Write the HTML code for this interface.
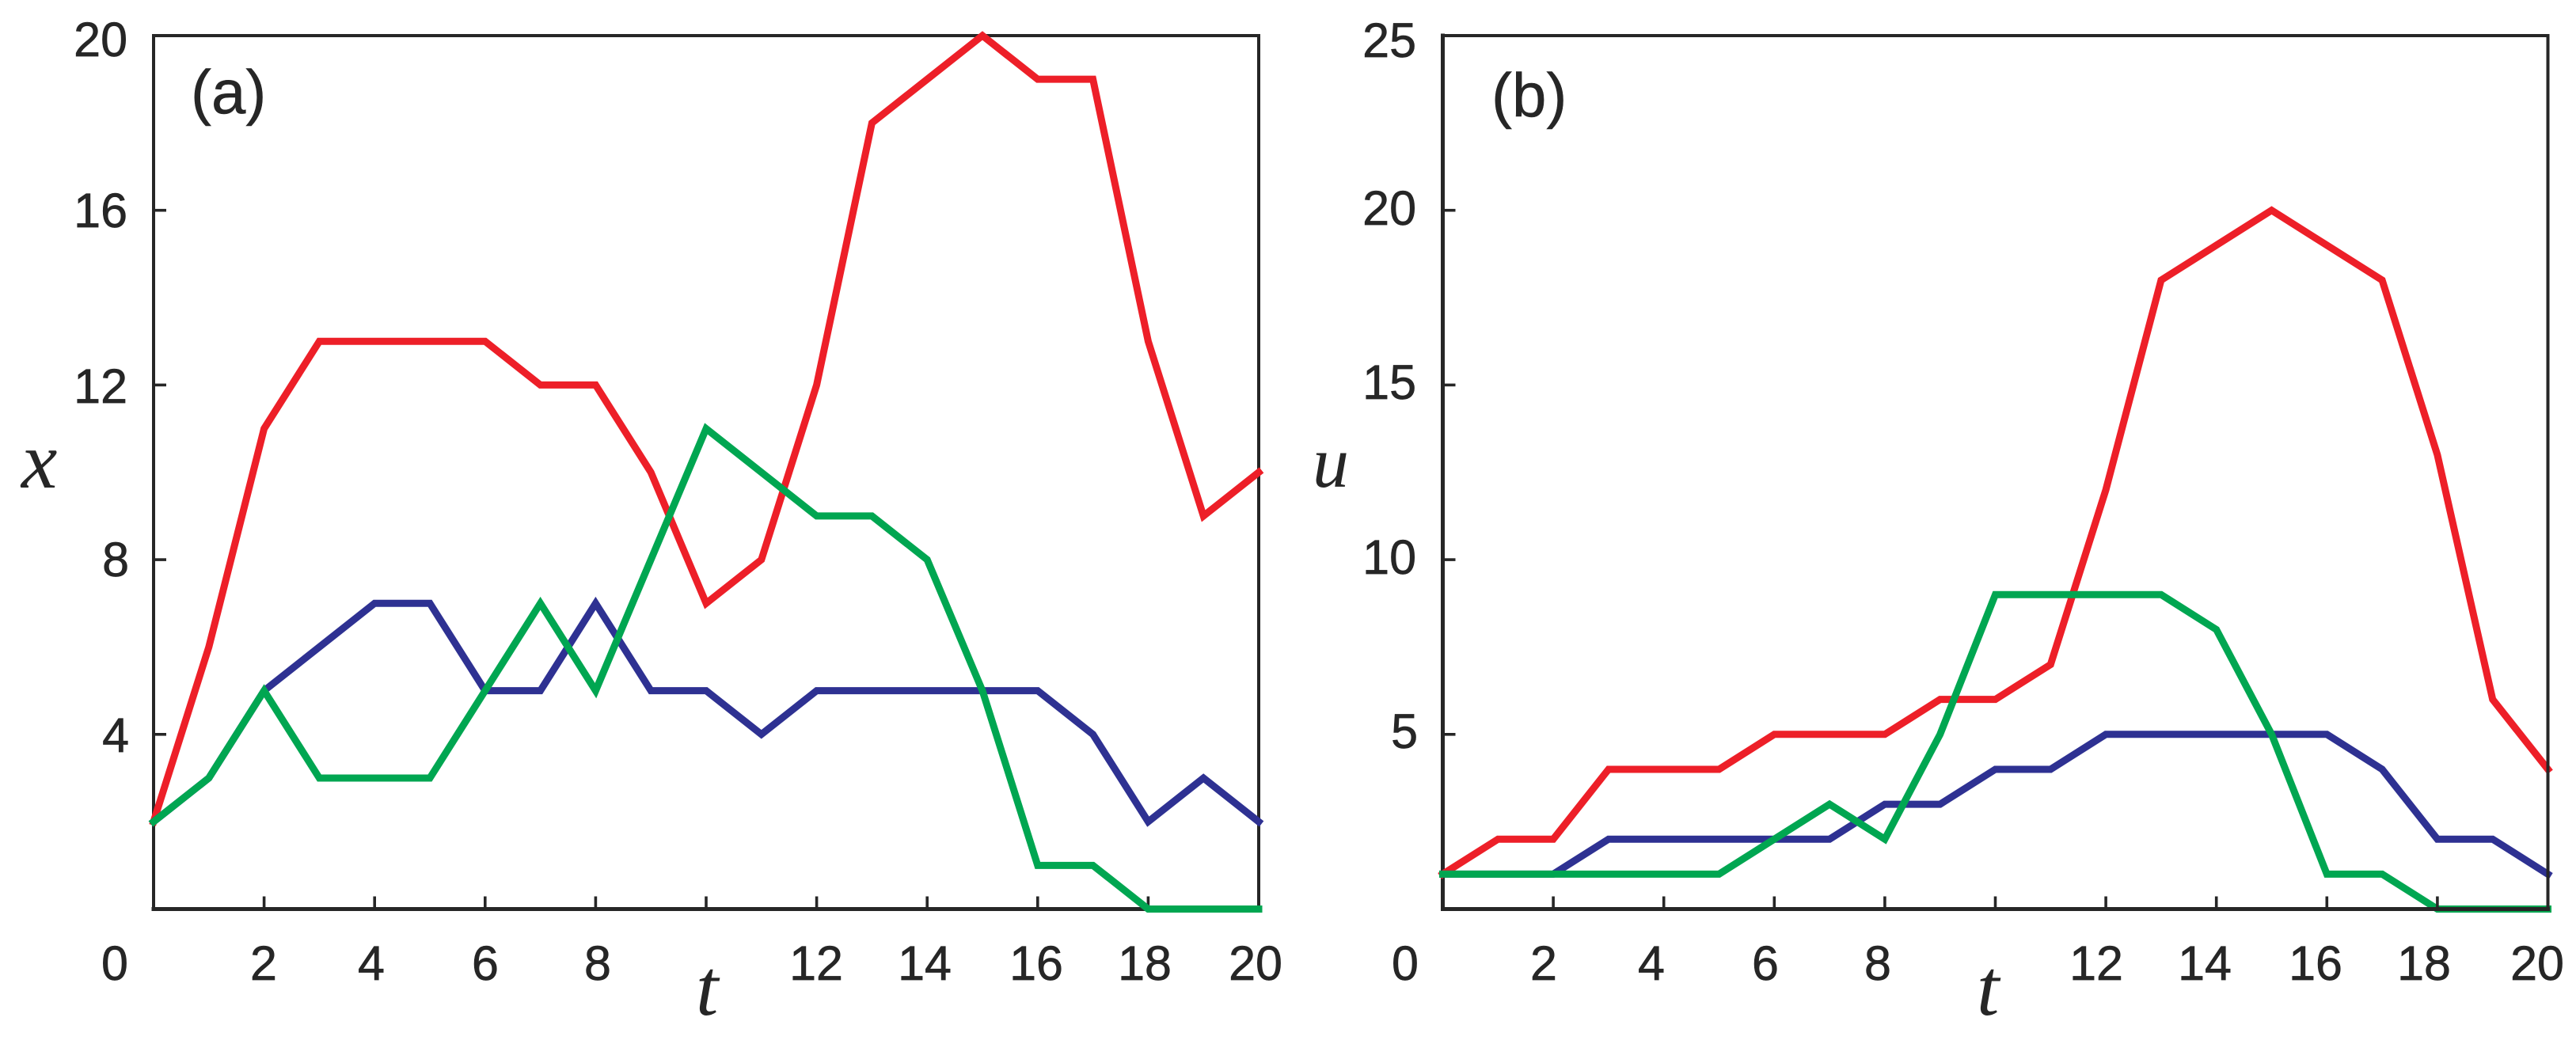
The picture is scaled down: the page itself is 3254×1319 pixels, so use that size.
<!DOCTYPE html>
<html lang="en">
<head>
<meta charset="utf-8">
<title>State and control trajectories</title>
<style>
html,body{margin:0;padding:0;background:#fff;}
body{width:3254px;height:1319px;overflow:hidden;}
svg{display:block;}
.num{font-family:"Liberation Sans",Arial,sans-serif;font-size:61px;fill:#262626;stroke:#262626;stroke-width:0.7px;}
.panel{font-family:"Liberation Sans",Arial,sans-serif;font-size:78px;fill:#262626;stroke:#262626;stroke-width:0.5px;}
.math{font-family:"Liberation Serif",serif;font-style:italic;font-size:102px;fill:#262626;}
</style>
</head>
<body>
<svg id="chart" xmlns="http://www.w3.org/2000/svg" width="3254" height="1319" viewBox="0 0 3254 1319">
  <rect x="0" y="0" width="3254" height="1319" fill="#ffffff"/>

  <g id="panel-a">
    <g id="a-under"></g>
    <g id="a-series"></g>
    <g id="a-over"></g>
    <text class="panel" x="241" y="143">(a)</text>
    <g class="num" text-anchor="end">
      <text x="161" y="71">20</text>
      <text x="161" y="287">16</text>
      <text x="161" y="509">12</text>
      <text x="163" y="728">8</text>
      <text x="163" y="950">4</text>
    </g>
    <g class="num" text-anchor="middle">
      <text x="145" y="1238">0</text>
      <text x="333" y="1238">2</text>
      <text x="469" y="1238">4</text>
      <text x="613" y="1238">6</text>
      <text x="755" y="1238">8</text>
      <text x="1031" y="1238">12</text>
      <text x="1168" y="1238">14</text>
      <text x="1309" y="1238">16</text>
      <text x="1446" y="1238">18</text>
      <text x="1586" y="1238">20</text>
    </g>
    <text class="math" x="27" y="616">x</text>
    <text class="math" x="879" y="1282">t</text>
  </g>

  <g id="panel-b">
    <g id="b-under"></g>
    <g id="b-series"></g>
    <g id="b-over"></g>
    <text class="panel" x="1884" y="147">(b)</text>
    <g class="num" text-anchor="end">
      <text x="1789" y="72">25</text>
      <text x="1789" y="284">20</text>
      <text x="1789" y="504">15</text>
      <text x="1789" y="725">10</text>
      <text x="1791" y="945">5</text>
    </g>
    <g class="num" text-anchor="middle">
      <text x="1775" y="1238">0</text>
      <text x="1950" y="1238">2</text>
      <text x="2086" y="1238">4</text>
      <text x="2230" y="1238">6</text>
      <text x="2372" y="1238">8</text>
      <text x="2648" y="1238">12</text>
      <text x="2785" y="1238">14</text>
      <text x="2925" y="1238">16</text>
      <text x="3062" y="1238">18</text>
      <text x="3205" y="1238">20</text>
    </g>
    <text class="math" x="1658" y="615" style="font-size:92px">u</text>
    <text class="math" x="2497" y="1282">t</text>
  </g>
</svg>

<script>
const timeSteps = [0,1,2,3,4,5,6,7,8,9,10,11,12,13,14,15,16,17,18,19,20];

const stateRed   = [2,6,11,13,13,13,13,12,12,10,7,8,12,18,19,20,19,19,13,9,10];
const stateBlue  = [2,3,5,6,7,7,5,5,7,5,5,4,5,5,5,5,5,4,2,3,2];
const stateGreen = [2,3,5,3,3,3,5,7,5,8,11,10,9,9,8,5,1,1,0,0,0];

const controlRed   = [1,2,2,4,4,4,5,5,5,6,6,7,12,18,19,20,19,18,13,6,4];
const controlBlue  = [1,1,1,2,2,2,2,2,3,3,4,4,5,5,5,5,5,4,2,2,1];
const controlGreen = [1,1,1,1,1,1,2,3,2,5,9,9,9,9,8,5,1,1,0,0,0];

const xTickValues = [2,4,6,8,10,12,14,16,18,20];
const stateYTicks = [4,8,12,16];
const controlYTicks = [5,10,15,20];

const SVG_NS = 'http://www.w3.org/2000/svg';
const INK = '#262626';
const RED = '#ED1F28';
const BLUE = '#2E3192';
const GREEN = '#00A651';
const TOP = 45;
const BOTTOM = 1148.5;

function xAxisA(t) { return 194 + (1590 - 194) * t / 20; }
function xAxisB(t) { return 1822.5 + (3218.5 - 1822.5) * t / 20; }
function yAxisA(v) { return BOTTOM - (BOTTOM - TOP) * v / 20; }
function yAxisB(v) { return BOTTOM - (BOTTOM - TOP) * v / 25; }

function makeLine(parent, x1, y1, x2, y2, width, name) {
  const el = document.createElementNS(SVG_NS, 'line');
  el.setAttribute('x1', x1);
  el.setAttribute('y1', y1);
  el.setAttribute('x2', x2);
  el.setAttribute('y2', y2);
  el.setAttribute('stroke', INK);
  el.setAttribute('stroke-width', width);
  el.setAttribute('stroke-linecap', 'square');
  
  
  parent.appendChild(el);
}

function makeTick(parent, x1, y1, x2, y2, name) {
  const el = document.createElementNS(SVG_NS, 'line');
  el.setAttribute('x1', x1);
  el.setAttribute('y1', y1);
  el.setAttribute('x2', x2);
  el.setAttribute('y2', y2);
  el.setAttribute('stroke', INK);
  el.setAttribute('stroke-width', 3.6);
  
  
  parent.appendChild(el);
}

function makeSeries(parent, times, values, xFn, yFn, color, name) {
  const el = document.createElementNS(SVG_NS, 'polyline');
  el.setAttribute('points', times.map(function (t, i) {
    return xFn(t).toFixed(2) + ',' + yFn(values[i]).toFixed(2);
  }).join(' '));
  el.setAttribute('fill', 'none');
  el.setAttribute('stroke', color);
  el.setAttribute('stroke-width', 9);
  el.setAttribute('stroke-linecap', 'square');
  el.setAttribute('stroke-linejoin', 'miter');
  el.setAttribute('stroke-miterlimit', 10);
  
  
  parent.appendChild(el);
}

const aUnder = document.getElementById('a-under');
const aSeries = document.getElementById('a-series');
const bUnder = document.getElementById('b-under');
const bSeries = document.getElementById('b-series');
const bOver = document.getElementById('b-over');

makeLine(aUnder, xAxisA(0), TOP, xAxisA(20), TOP, 4, 'panel-a-top-axis');
makeLine(aUnder, xAxisA(0), TOP, xAxisA(0), BOTTOM, 4, 'panel-a-left-axis');
makeLine(aUnder, xAxisA(20), TOP, xAxisA(20), BOTTOM, 4, 'panel-a-right-axis');
makeLine(aUnder, xAxisA(0), BOTTOM, xAxisA(20), BOTTOM, 5, 'panel-a-bottom-axis');
xTickValues.forEach(function (t) {
  makeTick(aUnder, xAxisA(t), BOTTOM - 16, xAxisA(t), BOTTOM, 'panel-a-x-tick-' + t);
});
stateYTicks.forEach(function (v) {
  makeTick(aUnder, xAxisA(0), yAxisA(v), xAxisA(0) + 16, yAxisA(v), 'panel-a-y-tick-' + v);
});
makeSeries(aSeries, timeSteps, stateRed, xAxisA, yAxisA, RED, 'panel-a-red-line');
makeSeries(aSeries, timeSteps, stateBlue, xAxisA, yAxisA, BLUE, 'panel-a-blue-line');
makeSeries(aSeries, timeSteps, stateGreen, xAxisA, yAxisA, GREEN, 'panel-a-green-line');

makeLine(bUnder, xAxisB(0), TOP, xAxisB(20), TOP, 4, 'panel-b-top-axis');
makeLine(bUnder, xAxisB(0), TOP, xAxisB(0), BOTTOM, 5, 'panel-b-left-axis');
controlYTicks.forEach(function (v) {
  makeTick(bUnder, xAxisB(0), yAxisB(v), xAxisB(0) + 16, yAxisB(v), 'panel-b-y-tick-' + v);
});
makeSeries(bSeries, timeSteps, controlRed, xAxisB, yAxisB, RED, 'panel-b-red-line');
makeSeries(bSeries, timeSteps, controlBlue, xAxisB, yAxisB, BLUE, 'panel-b-blue-line');
makeSeries(bSeries, timeSteps, controlGreen, xAxisB, yAxisB, GREEN, 'panel-b-green-line');
makeLine(bOver, xAxisB(20), TOP, xAxisB(20), BOTTOM, 4, 'panel-b-right-axis');
makeLine(bOver, xAxisB(0), BOTTOM, xAxisB(20), BOTTOM, 5, 'panel-b-bottom-axis');
xTickValues.forEach(function (t) {
  makeTick(bOver, xAxisB(t), BOTTOM - 16, xAxisB(t), BOTTOM, 'panel-b-x-tick-' + t);
});
</script>
</body>
</html>
